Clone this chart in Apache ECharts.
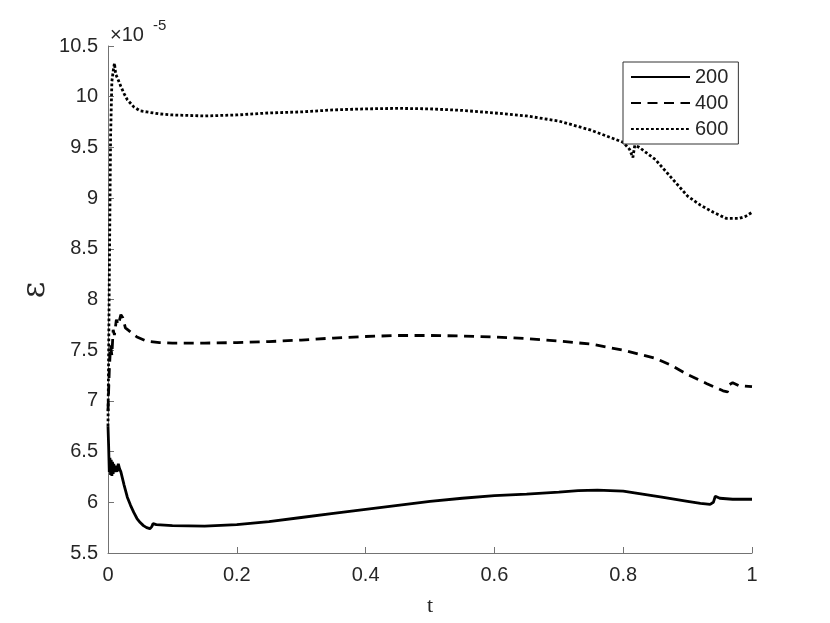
<!DOCTYPE html>
<html>
<head>
<meta charset="utf-8">
<script src="https://cdn.jsdelivr.net/npm/echarts@6/dist/echarts.min.js"></script>
<style>
  html, body { margin: 0; padding: 0; background: #fff; }
  #chart { width: 830px; height: 623px; }
</style>
</head>
<body>
<div id="chart"></div>
<script>
// data (values in units of 1e-5)
var t200 = [0, 0.001, 0.002, 0.003, 0.004, 0.005, 0.006, 0.007, 0.008, 0.009, 0.010, 0.012, 0.014, 0.016, 0.018, 0.02, 0.025, 0.03, 0.035, 0.04, 0.045, 0.05, 0.055, 0.06, 0.065, 0.068, 0.07, 0.075, 0.1, 0.15, 0.2, 0.25, 0.3, 0.35, 0.4, 0.45, 0.5, 0.55, 0.6, 0.65, 0.7, 0.73, 0.76, 0.8, 0.83, 0.86, 0.9, 0.92, 0.935, 0.94, 0.943, 0.95, 0.97, 1.0];
var v200 = [6.75, 6.55, 6.30, 6.44, 6.27, 6.42, 6.26, 6.40, 6.28, 6.38, 6.30, 6.36, 6.30, 6.38, 6.33, 6.30, 6.17, 6.05, 5.97, 5.90, 5.84, 5.80, 5.77, 5.75, 5.74, 5.76, 5.79, 5.78, 5.77, 5.765, 5.78, 5.81, 5.85, 5.89, 5.93, 5.97, 6.01, 6.04, 6.065, 6.08, 6.10, 6.115, 6.12, 6.11, 6.08, 6.05, 6.01, 5.99, 5.98, 6.00, 6.06, 6.04, 6.03, 6.03];

var t400 = [0, 0.002, 0.004, 0.006, 0.008, 0.010, 0.013, 0.016, 0.02, 0.023, 0.027, 0.035, 0.045, 0.06, 0.08, 0.1, 0.15, 0.2, 0.25, 0.3, 0.35, 0.4, 0.45, 0.5, 0.55, 0.6, 0.65, 0.7, 0.75, 0.8, 0.85, 0.875, 0.9, 0.93, 0.955, 0.962, 0.965, 0.97, 0.98, 1.0];
var v400 = [6.9, 7.3, 7.55, 7.45, 7.70, 7.65, 7.80, 7.75, 7.85, 7.82, 7.72, 7.68, 7.63, 7.59, 7.575, 7.57, 7.57, 7.575, 7.585, 7.60, 7.62, 7.635, 7.645, 7.645, 7.64, 7.63, 7.615, 7.59, 7.56, 7.50, 7.42, 7.35, 7.26, 7.17, 7.10, 7.09, 7.16, 7.18, 7.15, 7.14];

var t600 = [0, 0.002, 0.004, 0.006, 0.008, 0.010, 0.012, 0.015, 0.02, 0.025, 0.03, 0.04, 0.05, 0.06, 0.08, 0.1, 0.15, 0.2, 0.25, 0.3, 0.35, 0.4, 0.45, 0.5, 0.55, 0.6, 0.65, 0.7, 0.75, 0.8, 0.81, 0.815, 0.818, 0.825, 0.85, 0.875, 0.9, 0.92, 0.94, 0.96, 0.98, 0.99, 1.0];
var v600 = [6.75, 8.2, 9.6, 10.15, 10.25, 10.33, 10.22, 10.18, 10.10, 10.03, 9.97, 9.90, 9.86, 9.85, 9.83, 9.82, 9.81, 9.82, 9.84, 9.85, 9.87, 9.88, 9.885, 9.88, 9.865, 9.84, 9.81, 9.76, 9.67, 9.55, 9.48, 9.40, 9.52, 9.50, 9.38, 9.20, 9.02, 8.93, 8.86, 8.80, 8.80, 8.82, 8.86];

var seriesNames = ['200', '400', '600'];

function pairs(t, v) {
  return t.map(function (x, i) { return [x, v[i]]; });
}

var textColor = '#262626';
var axisColor = '#737373';
var font = 'Liberation Sans, Arial, sans-serif';

var chart = echarts.init(document.getElementById('chart'));

chart.setOption({
  animation: false,
  backgroundColor: '#fff',
  grid: { left: 108, right: 78, top: 46, bottom: 70 },
  xAxis: {
    type: 'value', min: 0, max: 1, interval: 0.2,
    axisLine: { lineStyle: { color: axisColor, width: 1 } },
    axisTick: { inside: true, length: 6, lineStyle: { color: axisColor } },
    axisLabel: { color: textColor, fontSize: 20, fontFamily: font, margin: 12 },
    splitLine: { show: false }
  },
  yAxis: {
    type: 'value', min: 5.5, max: 10.5, interval: 0.5,
    axisLine: { show: true, lineStyle: { color: axisColor, width: 1 } },
    axisTick: { show: true, inside: true, length: 6, lineStyle: { color: axisColor } },
    axisLabel: { color: textColor, fontSize: 20, fontFamily: font, margin: 10 },
    splitLine: { show: false }
  },
  legend: {
    orient: 'vertical',
    left: 623, top: 62,
    padding: [5, 10, 5, 7],
    itemGap: 6,
    itemWidth: 59,
    itemHeight: 14,
    backgroundColor: '#fff',
    borderColor: '#333',
    borderWidth: 1,
    borderRadius: 0,
    itemStyle: { opacity: 0 },
    textStyle: { color: textColor, fontSize: 20, fontFamily: font, lineHeight: 20 },
    data: seriesNames
  },
  graphic: [
    { type: 'text', left: 110, top: 25, style: { text: '×10', fill: textColor, font: '20px ' + font } },
    { type: 'text', left: 153, top: 18, style: { text: '-5', fill: textColor, font: '15px ' + font } },
    { type: 'text', x: 36, y: 290, rotation: Math.PI / 2,
      style: { text: 'ε', fill: textColor, font: '32px DejaVu Serif, serif', align: 'center', verticalAlign: 'middle' } },
    { type: 'text', x: 430, y: 606,
      style: { text: 't', fill: textColor, font: '22px Liberation Serif, serif', align: 'center', verticalAlign: 'middle' } }
  ],
  series: [
    { name: '200', type: 'line', data: pairs(t200, v200), showSymbol: false, symbol: 'none',
      lineStyle: { color: '#000', width: 2.8, type: 'solid' }, itemStyle: { color: '#000' } },
    { name: '400', type: 'line', data: pairs(t400, v400), showSymbol: false, symbol: 'none',
      lineStyle: { color: '#000', width: 2.8, type: [10, 6.5] }, itemStyle: { color: '#000' } },
    { name: '600', type: 'line', data: pairs(t600, v600), showSymbol: false, symbol: 'none',
      lineStyle: { color: '#000', width: 2.8, type: [2.8, 2.2] }, itemStyle: { color: '#000' } }
  ]
});
</script>
</body>
</html>
